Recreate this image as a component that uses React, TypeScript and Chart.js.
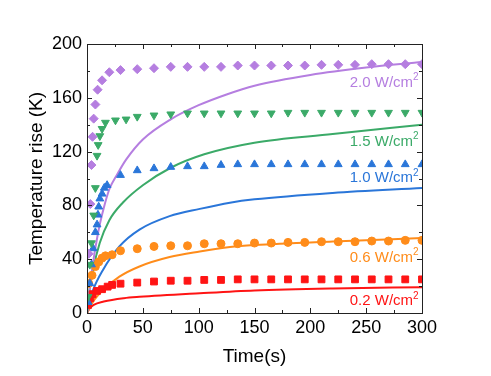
import React, { useEffect, useRef } from 'react';
import { Chart, registerables } from 'chart.js';

Chart.register(...registerables);

// ---- data ----
const xTickValues = [0, 50, 100, 150, 200, 250, 300];
const yTickValues = [0, 40, 80, 120, 160, 200];

// measured points (markers)
const t20 = [1.5, 3, 4, 5, 6, 7.5, 9.5, 13.5, 20, 30, 45, 60, 75, 90, 105, 120, 135, 150, 165, 180, 195, 210, 225, 240, 255, 270, 285, 300];
const v20 = [44, 81, 110, 131, 144.5, 155, 166, 173, 179, 180.6, 181.3, 182, 183, 183, 183, 183, 184, 184, 184, 184, 184, 184.5, 184.5, 184.5, 185, 185, 185, 185];

const t15 = [1, 2.5, 4, 6, 7.5, 9, 10, 11.5, 13.5, 16.5, 25.5, 35, 45, 60, 75, 90, 105, 120, 135, 150, 165, 180, 195, 210, 225, 240, 255, 270, 285, 300];
const v15 = [12, 36, 52, 72.6, 93, 117, 125, 131.6, 137, 141.6, 143.3, 144, 146, 147, 147.8, 148.5, 148.5, 148.5, 148.5, 148.5, 148.5, 149, 149, 149, 149, 149, 149, 149, 149, 149];

const t10 = [1, 2.5, 4, 5.5, 7.5, 9, 9.8, 10.5, 11.5, 13.5, 15.5, 18, 30, 45, 60, 75, 90, 105, 120, 135, 150, 165, 180, 195, 210, 225, 240, 255, 270, 285, 300];
const v10 = [8, 22, 36, 48, 60, 65.7, 73, 79, 85, 88.6, 93, 95, 102.5, 106, 107.5, 108.5, 109, 109, 110, 110.5, 110.5, 110.5, 110.5, 110.5, 110.5, 110.5, 110.5, 110.5, 110.5, 110.5, 110.5];

const t06 = [1.5, 4.5, 7.5, 10.5, 13.5, 16.5, 22.5, 30, 45, 60, 75, 90, 105, 120, 135, 150, 165, 180, 195, 210, 225, 240, 255, 270, 285, 300];
const v06 = [22, 28, 34.5, 38, 40.8, 42.5, 43.3, 46.3, 47.8, 49.5, 50, 50, 51.5, 51.5, 51.5, 52, 52, 52.5, 52.5, 53, 53, 53, 53.5, 53.5, 54, 54];

const t02 = [1, 3, 5, 9, 13.5, 18.5, 22.5, 30, 45, 60, 75, 90, 105, 120, 135, 150, 165, 180, 195, 210, 225, 240, 255, 270, 285, 300];
const v02 = [6, 11, 14, 16.4, 17.7, 19.6, 20.9, 21.8, 22.6, 23.4, 24, 24, 24.6, 24.6, 25, 25, 25, 25, 25, 25, 25, 25, 25, 25, 25, 25];

// simulated curves
const c20t = [0, 2, 5, 10, 15, 20, 27, 35, 50, 75, 100, 125, 150, 200, 250, 300];
const c20v = [0, 14, 35, 60, 78, 92, 103, 114, 129, 144, 154.5, 162.5, 169, 177, 182.5, 186.6];

const c15t = [0, 1, 5.4, 11.4, 20, 32, 50, 75, 105, 150, 220, 300];
const c15v = [0, 10, 32, 52, 69, 82, 95, 108, 118, 126.6, 133, 140];

const c10t = [0, 1, 5.4, 14.3, 29, 47, 74, 101, 128, 150, 220, 300];
const c10v = [0, 4.7, 17, 32, 49.5, 62, 72, 77.4, 82, 84.5, 89.3, 93];

const c06t = [0, 5.4, 14.3, 29, 47, 74, 101, 128, 150, 220, 300];
const c06v = [0, 8.4, 17, 27, 34.6, 41.6, 45.7, 49, 50.5, 53.2, 55.7];

const c02t = [0, 2, 6, 15, 33, 47, 101, 150, 220, 300];
const c02v = [0, 3, 6, 8.5, 11, 12, 14.7, 16.8, 18.3, 19.2];

const seriesNames = ['2.0 W/cm', '1.5 W/cm', '1.0 W/cm', '0.6 W/cm', '0.2 W/cm'];
const labelAnchorX = 297;
const labelAnchorY = [171.2, 127.5, 100.2, 41.2, 9.0];

const colors = ['#B57EE0', '#3BAA68', '#2A76D9', '#FF8C1A', '#FF1414'];

const pts = (t: number[], v: number[]) => t.map((x, i) => ({ x, y: v[i] }));

const FONT = "'Liberation Sans', Arial, Helvetica, sans-serif";

const boxPlugin = {
  id: 'boxTicks',
  afterDatasetsDraw(chart: any) {
    const { ctx, chartArea: a, scales } = chart;
    const xs = scales.x;
    const ys = scales.y;
    ctx.save();
    ctx.strokeStyle = '#222';
    ctx.lineWidth = 1;
    const major = 5;
    const minor = 3;
    ctx.beginPath();
    for (let v = 0; v <= 300; v += 25) {
      const len = v % 50 === 0 ? major : minor;
      const px = Math.round(xs.getPixelForValue(v)) + 0.5;
      ctx.moveTo(px, a.bottom);
      ctx.lineTo(px, a.bottom - len);
      ctx.moveTo(px, a.top);
      ctx.lineTo(px, a.top + len);
    }
    for (let v = 0; v <= 200; v += 20) {
      const len = v % 40 === 0 ? major : minor;
      const py = Math.round(ys.getPixelForValue(v)) + 0.5;
      ctx.moveTo(a.left, py);
      ctx.lineTo(a.left + len, py);
      ctx.moveTo(a.right, py);
      ctx.lineTo(a.right - len, py);
    }
    ctx.stroke();
    ctx.strokeRect(Math.round(a.left) + 0.5, Math.round(a.top) + 0.5, Math.round(a.right - a.left), Math.round(a.bottom - a.top));

    // series labels with superscript
    seriesNames.forEach((name, i) => {
      const right = xs.getPixelForValue(labelAnchorX);
      const cy = ys.getPixelForValue(labelAnchorY[i]);
      ctx.font = `15px ${FONT}`;
      const w1 = ctx.measureText(name).width;
      ctx.font = `10px ${FONT}`;
      const w2 = ctx.measureText('2').width;
      const x0 = right - w1 - w2;
      ctx.fillStyle = colors[i];
      ctx.textBaseline = 'middle';
      ctx.textAlign = 'left';
      ctx.font = `15px ${FONT}`;
      ctx.fillText(name, x0, cy);
      ctx.font = `10px ${FONT}`;
      ctx.fillText('2', x0 + w1, cy - 5);
    });
    ctx.restore();
  },
};

export default function App() {
  const ref = useRef<HTMLCanvasElement>(null);
  useEffect(() => {
    if (!ref.current) return;
    const markerSets = [
      { d: pts(t20, v20), style: 'rectRot', r: 4.5, rot: 0 },
      { d: pts(t15, v15), style: 'triangle', r: 4.5, rot: 180 },
      { d: pts(t10, v10), style: 'triangle', r: 4.5, rot: 0 },
      { d: pts(t06, v06), style: 'circle', r: 4, rot: 0 },
      { d: pts(t02, v02), style: 'rect', r: 4.8, rot: 0 },
    ];
    const curves = [pts(c20t, c20v), pts(c15t, c15v), pts(c10t, c10v), pts(c06t, c06v), pts(c02t, c02v)];
    const datasets: any[] = [];
    markerSets.forEach((m, i) => {
      datasets.push({
        type: 'scatter',
        data: m.d,
        pointStyle: m.style,
        pointRadius: m.r,
        pointRotation: m.rot,
        backgroundColor: colors[i],
        borderColor: colors[i],
        borderWidth: 1,
        showLine: false,
        clip: 0,
      });
    });
    curves.forEach((c, i) => {
      datasets.push({
        type: 'line',
        data: c,
        borderColor: colors[i],
        borderWidth: 2,
        pointRadius: 0,
        fill: false,
        cubicInterpolationMode: 'monotone',
        clip: 0,
      });
    });
    const chart = new Chart(ref.current, {
      type: 'scatter',
      data: { datasets },
      options: {
        animation: false,
        responsive: true,
        maintainAspectRatio: false,
        layout: { padding: { left: 0, right: 69, top: 44, bottom: 0 } },
        plugins: { legend: { display: false }, tooltip: { enabled: false } },
        scales: {
          x: {
            type: 'linear',
            min: 0,
            max: 300,
            afterBuildTicks: (s: any) => { s.ticks = xTickValues.map((v) => ({ value: v })); },
            afterFit: (s: any) => { s.height = 63; },
            grid: { display: false, drawTicks: false },
            border: { display: false },
            ticks: { color: '#000', font: { size: 18, family: FONT }, padding: 4, maxRotation: 0, autoSkip: false },
            title: { display: true, text: 'Time(s)', color: '#000', font: { size: 19, family: FONT }, padding: { top: 0, bottom: 8 } },
          },
          y: {
            type: 'linear',
            min: 0,
            max: 200,
            afterBuildTicks: (s: any) => { s.ticks = yTickValues.map((v) => ({ value: v })); },
            afterFit: (s: any) => { s.width = 87; },
            grid: { display: false, drawTicks: false },
            border: { display: false },
            ticks: { color: '#000', font: { size: 18, family: FONT }, padding: 5, autoSkip: false },
            title: { display: true, text: 'Temperature rise (K)', color: '#000', font: { size: 19, family: FONT }, padding: { top: 25, bottom: 0 } },
          },
        },
      },
      plugins: [boxPlugin],
    } as any);
    return () => chart.destroy();
  }, []);
  return (
    <div style={{ position: 'fixed', left: 0, top: 0, width: 491, height: 376, background: '#fff' }}>
      <canvas ref={ref} />
    </div>
  );
}
